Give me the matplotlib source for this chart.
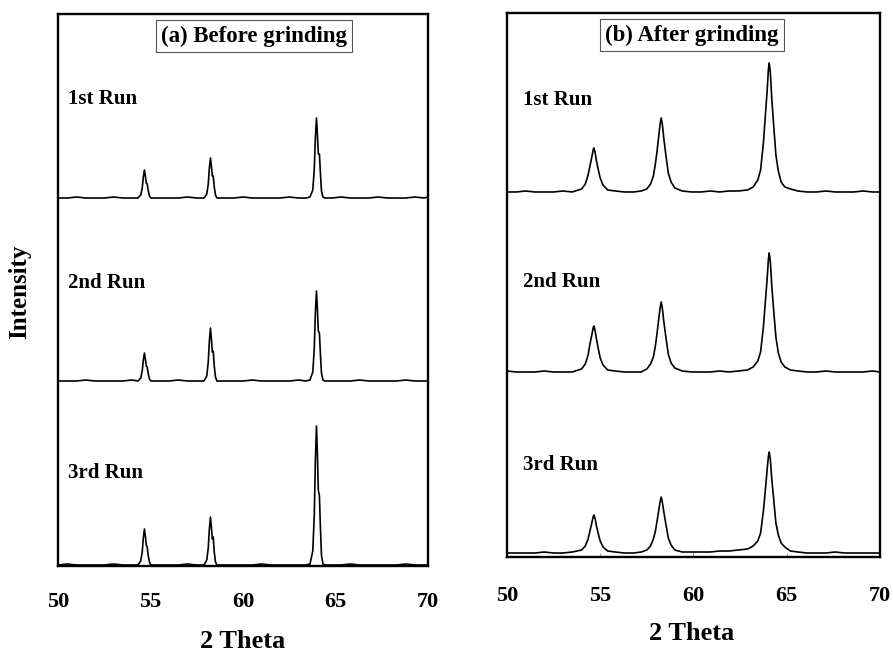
import matplotlib
matplotlib.use("Agg")
import matplotlib.pyplot as plt

plt.rcParams["font.family"] = ["Liberation Serif", "DejaVu Serif"]
plt.rcParams["font.weight"] = "bold"

# (a) before grinding: sharp peaks with Ka2 shoulders
theta_a = [50.0, 50.5, 51.0, 51.5, 52.0, 52.5, 53.0, 53.5,
           54.0, 54.32, 54.47, 54.55, 54.61, 54.67, 54.72, 54.77, 54.82, 54.87, 54.94, 55.02,
           55.5, 56.0, 56.5, 57.0, 57.5,
           57.89, 58.04, 58.12, 58.18, 58.24, 58.29, 58.34, 58.39, 58.44, 58.51, 58.59,
           59.0, 59.5, 60.0, 60.5, 61.0, 61.5, 62.0, 62.5, 63.0, 63.4,
           63.62, 63.77, 63.85, 63.91, 63.97, 64.02, 64.07, 64.13, 64.18, 64.24, 64.32, 64.42,
           64.8, 65.3, 65.8, 66.3, 66.8, 67.3, 67.8, 68.3, 68.8, 69.3, 69.8, 70.0]

run1_a = [0, 0, 1, 0, 0, 0, 1, 0,
          0, 0, 3, 10, 21, 28, 22, 15, 14, 8, 2, 0,
          0, 0, 0, 1, 0,
          0, 4, 14, 30, 40, 32, 22, 22, 12, 3, 0,
          0, 0, 1, 0, 0, 0, 0, 1, 0, 0,
          1, 8, 28, 60, 80, 64, 44, 44, 26, 7, 1, 0,
          0, 1, 0, 0, 0, 1, 0, 0, 0, 1, 0, 1]

run2_a = [0, 0, 0, 1, 0, 0, 0, 0,
          1, 0, 3, 10, 21, 28, 22, 15, 14, 8, 2, 0,
          0, 0, 1, 0, 0,
          0, 5, 19, 40, 53, 42, 29, 30, 16, 4, 0,
          0, 0, 0, 1, 0, 0, 0, 0, 1, 0,
          1, 9, 32, 68, 90, 72, 50, 48, 28, 8, 1, 0,
          0, 0, 0, 1, 0, 0, 0, 0, 1, 0, 0, 0]

run3_a = [1, 2, 1, 1, 1, 1, 2, 1,
          1, 1, 5, 14, 28, 37, 30, 21, 19, 11, 4, 1,
          1, 1, 1, 2, 1,
          1, 6, 18, 37, 49, 39, 27, 29, 15, 4, 1,
          1, 1, 1, 1, 2, 1, 1, 1, 1, 1,
          2, 15, 50, 105, 140, 112, 76, 70, 40, 11, 2, 1,
          1, 1, 2, 1, 1, 1, 1, 1, 2, 1, 1, 1]

# (b) after grinding: broadened peaks
theta_b = [50.0, 50.5, 51.0, 51.5, 52.0, 52.5, 53.0, 53.5,
           54.0, 54.2, 54.35, 54.45, 54.55, 54.62, 54.66, 54.72, 54.8, 54.9, 55.0, 55.15, 55.4, 55.8,
           56.3, 56.8, 57.2,
           57.5, 57.7, 57.85, 57.95, 58.05, 58.15, 58.22, 58.27, 58.33, 58.42, 58.52, 58.65, 58.8, 59.0, 59.4,
           59.9, 60.4, 60.9, 61.4, 61.9, 62.4,
           62.9, 63.2, 63.45, 63.6, 63.75, 63.85, 63.95, 64.02, 64.06, 64.12, 64.2, 64.3, 64.42, 64.55,
           64.7, 64.9, 65.2, 65.6,
           66.1, 66.6, 67.1, 67.6, 68.1, 68.6, 69.1, 69.6, 70.0]

run1_b = [0, 0, 1, 0, 0, 0, 1, 0,
          3, 8, 17, 26, 35, 42, 44, 40, 31, 22, 14, 7, 2, 1,
          0, 0, 1,
          3, 8, 16, 27, 41, 58, 69, 74, 68, 52, 37, 19, 10, 4, 1,
          0, 0, 1, 0, 1, 1,
          2, 5, 12, 22, 49, 75, 101, 123, 129, 120, 93, 67, 37, 21,
          10, 5, 3, 1,
          0, 0, 1, 0, 0, 0, 1, 0, 0]

run2_b = [1, 0, 0, 0, 1, 0, 0, 0,
          3, 8, 17, 28, 37, 44, 46, 42, 33, 23, 14, 7, 2, 1,
          0, 0, 0,
          3, 8, 15, 25, 39, 55, 65, 70, 64, 49, 35, 18, 9, 4, 1,
          0, 0, 0, 1, 0, 1,
          2, 5, 11, 20, 45, 69, 93, 113, 119, 111, 86, 62, 35, 19,
          10, 5, 2, 1,
          0, 0, 1, 0, 0, 0, 0, 1, 0]

run3_b = [4, 4, 4, 4, 5, 4, 4, 5,
          7, 11, 18, 26, 34, 40, 42, 39, 31, 23, 16, 10, 6, 5,
          4, 4, 5,
          7, 11, 18, 25, 36, 48, 56, 60, 55, 44, 33, 19, 12, 7, 5,
          5, 5, 5, 6, 6, 7,
          8, 11, 16, 24, 46, 66, 87, 101, 105, 98, 78, 58, 34, 22,
          14, 10, 6, 5,
          4, 4, 4, 5, 4, 4, 4, 4, 4]

run_labels = ["1st Run", "2nd Run", "3rd Run"]
x_ticks = [50, 55, 60, 65, 70]

fig = plt.figure(figsize=(8.93, 6.52), dpi=100)
ax_a = fig.add_axes([0.0650, 0.1319, 0.4143, 0.8466])
ax_b = fig.add_axes([0.5677, 0.1457, 0.4177, 0.8344])

panels = [
    (ax_a, theta_a, [run1_a, run2_a, run3_a], [368, 185, 0], 552,
     "(a) Before grinding", (60.6, 530), 50.54, [467, 283, 93], 19),
    (ax_b, theta_b, [run1_b, run2_b, run3_b], [365, 185, 0], 544,
     "(b) After grinding", (59.92, 522), 50.86, [457, 275, 92], 21),
]

for ax, theta, runs, offsets, top, title, title_xy, lab_x, lab_y, pad in panels:
    for counts, off in zip(runs, offsets):
        ax.plot(theta, [c + off for c in counts], color="black", lw=1.2)
    for text, y in zip(run_labels, lab_y):
        ax.text(lab_x, y, text, fontsize=15, fontweight="bold", va="center", ha="left")
    ax.text(title_xy[0], title_xy[1], title, fontsize=16.5, fontweight="bold",
            ha="center", va="center",
            bbox=dict(boxstyle="square,pad=0.22", facecolor="white",
                      edgecolor="#555555", linewidth=0.8))
    ax.set_xlim(50, 70)
    ax.set_ylim(0, top)
    ax.set_xticks(x_ticks)
    ax.set_yticks([])
    ax.tick_params(axis="x", length=0, pad=pad, labelsize=16)
    for lbl in ax.get_xticklabels():
        lbl.set_fontweight("bold")
    for sp in ax.spines.values():
        sp.set_linewidth(1.7)

# faint inner ticks on the right-hand panel
ax_b.tick_params(axis="x", direction="in", length=3, width=0.6, color="#888888")

fig.text(243 / 893, 1 - 642 / 652, "2 Theta", fontsize=19, fontweight="bold",
         ha="center", va="center")
fig.text(692 / 893, 1 - 633 / 652, "2 Theta", fontsize=19, fontweight="bold",
         ha="center", va="center")
fig.text(20 / 893, 1 - 292 / 652, "Intensity", fontsize=18, fontweight="bold",
         ha="center", va="center", rotation=90)

fig.savefig("out.png", dpi=100)
